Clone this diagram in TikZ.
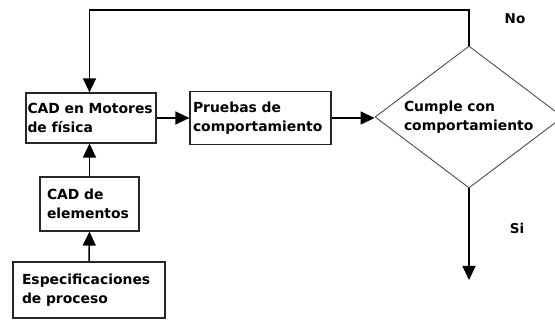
\documentclass[tikz,border=0pt]{standalone}
\usepackage{fontspec}
\setsansfont{DejaVu Sans}
\usetikzlibrary{arrows.meta, shapes.geometric}
\tikzset{
  block/.style={rectangle, draw=black!85, line width=1.2pt,
    font=\sffamily\bfseries\fontsize{13.9}{19.5}\selectfont, align=left},
  decision/.style={diamond, draw=black!70, line width=0.9pt, inner sep=0pt,
    minimum width=188pt, minimum height=142pt, shape aspect=1.32,
    font=\sffamily\bfseries\fontsize{13.9}{19.5}\selectfont, align=left, text width=130pt},
  label/.style={font=\sffamily\bfseries\fontsize{13.5}{15}\selectfont},
  arrow/.style={line width=1.5pt, -{Triangle[length=14pt, width=13pt]}},
}

\begin{document}
\begin{tikzpicture}[x=1pt, y=-1pt]
    \useasboundingbox (0,0) rectangle (555,320);
    \node (cadmot) [block, minimum width=130pt, minimum height=50pt, inner xsep=1.5pt, text width=127pt] at (91,118) {CAD en Motores\\de física};
    \node (pruebas) [block, minimum width=141pt, minimum height=53pt, inner xsep=3pt, text width=135pt] at (260.5,118) {Pruebas de\\comportamiento};
    \node (cumple) [decision] at (469,117) {Cumple con\\comportamiento};
    \node (cadel) [block, minimum width=99pt, minimum height=54pt, inner xsep=7pt, text width=85pt] at (89.5,204) {CAD de\\elementos};
    \node (espec) [block, minimum width=152pt, minimum height=56pt, inner xsep=9pt, text width=134pt] at (89,290) {Especificaciones\\de proceso};
    \node (no) [label] at (515,19) {No};
    \node (si) [label] at (517,228) {Si};
    \coordinate (vuelta) at (469,10);
    \coordinate (salida) at (469,280);

    \draw[arrow] (espec.north) -- (cadel.south);
    \draw[arrow] (cadel.north) -- (cadel.north |- cadmot.south);
    \draw[arrow] (cadmot.east) -- (cadmot.east -| pruebas.west);
    \draw[arrow] (pruebas.east) -- (pruebas.east -| cumple.west);
    \draw[arrow] (cumple.north) -- (vuelta) -| (cadel.north |- cadmot.north);
    \draw[arrow] (cumple.south) -- (salida);
  \end{tikzpicture}
\end{document}
